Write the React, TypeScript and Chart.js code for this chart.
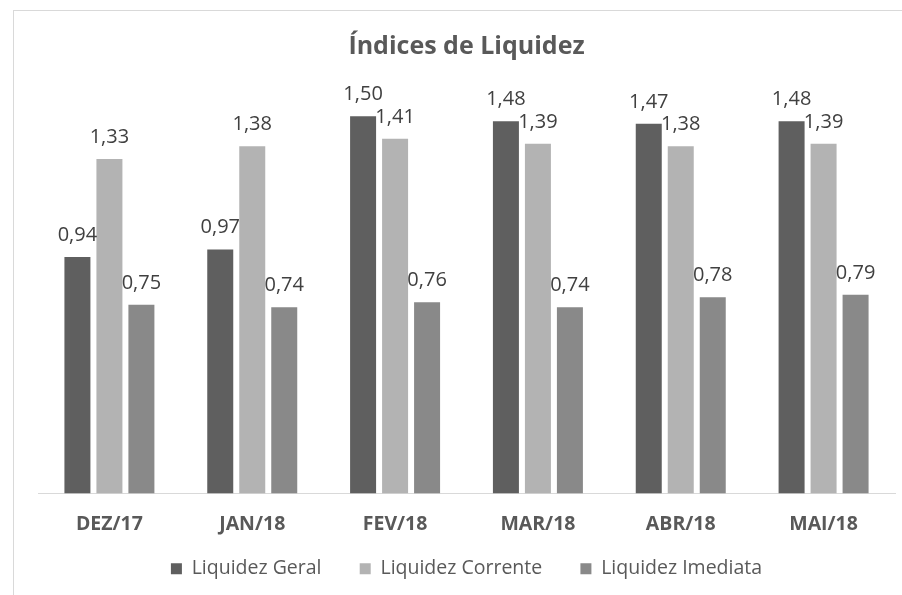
import React, { useEffect, useRef } from "react";
import { Chart, registerables } from "chart.js";

Chart.register(...registerables);

const categories = ["DEZ/17", "JAN/18", "FEV/18", "MAR/18", "ABR/18", "MAI/18"];
const liquidezGeral = [0.94, 0.97, 1.5, 1.48, 1.47, 1.48];
const liquidezCorrente = [1.33, 1.38, 1.41, 1.39, 1.38, 1.39];
const liquidezImediata = [0.75, 0.74, 0.76, 0.74, 0.78, 0.79];
const seriesNames = ["Liquidez Geral", "Liquidez Corrente", "Liquidez Imediata"];
const seriesColors = ["#5f5f5f", "#b3b3b3", "#898989"];
const titleText = "Índices de Liquidez";
const yMax = 1.6;

const fmt = (v: number) => v.toFixed(2).replace(".", ",");

const dataLabelPlugin = {
  id: "dataLabels",
  afterDatasetsDraw(chart: any) {
    const ctx = chart.ctx;
    ctx.save();
    ctx.font = '20px "Open Sans"';
    ctx.fillStyle = "#404040";
    ctx.textAlign = "center";
    ctx.textBaseline = "alphabetic";
    chart.data.datasets.forEach((ds: any, i: number) => {
      chart.getDatasetMeta(i).data.forEach((el: any, j: number) => {
        ctx.fillText(fmt(ds.data[j]), el.x, el.y - 16);
      });
    });
    ctx.restore();
  },
};

export default function App() {
  const ref = useRef<HTMLCanvasElement | null>(null);

  useEffect(() => {
    if (!ref.current) return;
    const values = [liquidezGeral, liquidezCorrente, liquidezImediata];
    const chart = new Chart(ref.current, {
      type: "bar",
      data: {
        labels: categories,
        datasets: values.map((d, i) => ({
          label: seriesNames[i],
          data: d,
          backgroundColor: seriesColors[i],
          borderWidth: 0,
          categoryPercentage: 0.672,
          barPercentage: 0.8125,
        })),
      },
      options: {
        animation: false,
        responsive: false,
        maintainAspectRatio: false,
        layout: { padding: { left: 24, right: 23, top: 0, bottom: 6.5 } },
        plugins: {
          title: {
            display: true,
            text: titleText,
            color: "#595959",
            font: { family: '"Open Sans"', size: 25, weight: "bold", lineHeight: 1.2 },
            padding: { top: 21, bottom: 29 },
          },
          legend: {
            display: true,
            position: "bottom",
            labels: {
              color: "#595959",
              font: { family: '"Open Sans"', size: 19.5 },
              boxWidth: 11,
              boxHeight: 11,
              padding: 23,
              generateLabels: (chart: any) =>
                chart.data.datasets.map((ds: any, i: number) => ({
                  text: i < chart.data.datasets.length - 1 ? ds.label + "   " : ds.label,
                  fillStyle: ds.backgroundColor,
                  strokeStyle: ds.backgroundColor,
                  lineWidth: 0,
                  hidden: false,
                  datasetIndex: i,
                  fontColor: "#595959",
                })),
            },
          },
          tooltip: { enabled: false },
        },
        scales: {
          x: {
            grid: { display: false, drawTicks: false },
            border: { display: true, color: "#d9d9d9", width: 1 },
            ticks: {
              color: "#595959",
              font: { family: '"Open Sans"', size: 19.5, weight: "bold", lineHeight: 1.2 },
              padding: 19.5,
              maxRotation: 0,
            },
            afterFit: (scale: any) => {
              scale.height = 42.5;
            },
          },
          y: {
            display: false,
            min: 0,
            max: yMax,
          },
        },
      },
      plugins: [dataLabelPlugin],
    });
    return () => chart.destroy();
  }, []);

  return (
    <div
      style={{
        position: "absolute",
        left: 0,
        top: 0,
        width: 902,
        height: 595,
        overflow: "hidden",
        background: "#ffffff",
      }}
    >
      <div
        style={{
          position: "absolute",
          left: 13,
          top: 10,
          width: 930,
          height: 620,
          borderTop: "1px solid #d9d9d9",
          borderLeft: "1px solid #d9d9d9",
          boxSizing: "border-box",
        }}
      />
      <canvas
        ref={ref}
        width={904}
        height={584}
        style={{ position: "absolute", left: 14, top: 11, width: 904, height: 584 }}
      />
    </div>
  );
}
